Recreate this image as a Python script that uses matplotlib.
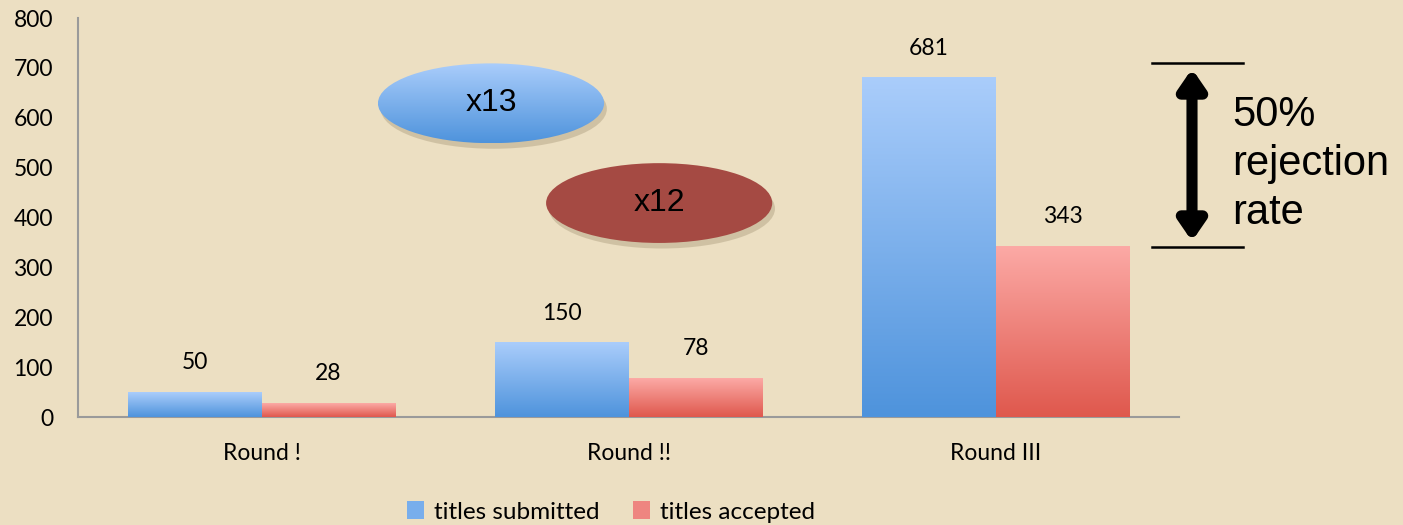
import numpy as np
import matplotlib.pyplot as plt
from matplotlib.patches import Ellipse, Patch, FancyArrowPatch
from matplotlib.lines import Line2D
from matplotlib.colors import LinearSegmentedColormap
import matplotlib.patheffects as pe

# data
rounds = ["Round !", "Round !!", "Round III"]
submitted = [50, 150, 681]
accepted = [28, 78, 343]
yticks = [0, 100, 200, 300, 400, 500, 600, 700, 800]

bg = "#ECDFC2"
blue_cmap = LinearSegmentedColormap.from_list("b", ["#4E93DC", "#AACDFB"])
red_cmap = LinearSegmentedColormap.from_list("r", ["#DF584D", "#FCAAA6"])
grad = np.linspace(0, 1, 256).reshape(-1, 1)

fig = plt.figure(figsize=(14.03, 5.25), dpi=100, facecolor=bg)
ax = fig.add_axes([0.0556, 0.2057, 0.785, 0.76])
ax.set_facecolor(bg)

x = np.arange(len(rounds))
w = 0.365

def gradient_bars(xpos, vals, cmap):
    bars = ax.bar(xpos, vals, w, facecolor="none", edgecolor="none", zorder=3)
    for b in bars:
        x0, y0 = b.get_x(), b.get_y()
        img = ax.imshow(grad, extent=[x0, x0 + b.get_width(), y0, y0 + b.get_height()],
                        origin="lower", aspect="auto", cmap=cmap, zorder=3)
        img.set_clip_path(b)
    return bars

gradient_bars(x - w / 2, submitted, blue_cmap)
gradient_bars(x + w / 2, accepted, red_cmap)

for xi, v in zip(x - w / 2, submitted):
    ax.annotate(str(v), (xi, v), xytext=(0, 21), textcoords="offset points",
                ha="center", va="center", fontsize=16.5, family="Lato")
for xi, v in zip(x + w / 2, accepted):
    ax.annotate(str(v), (xi, v), xytext=(0, 21), textcoords="offset points",
                ha="center", va="center", fontsize=16.5, family="Lato")

# ellipses
shadow = [pe.SimplePatchShadow(offset=(2, -4), shadow_rgbFace="#7a6a4a", alpha=0.25)]
shadow1 = Ellipse((0.625, 629), 0.616, 160, facecolor=bg, edgecolor="none", zorder=3.9,
                  path_effects=shadow)
ax.add_patch(shadow1)
e1 = Ellipse((0.625, 629), 0.616, 160, facecolor="none", edgecolor="none", zorder=4)
ax.add_patch(e1)
img = ax.imshow(grad, extent=[0.625 - 0.308, 0.625 + 0.308, 549, 709], origin="lower",
                aspect="auto", cmap=blue_cmap, zorder=4)
img.set_clip_path(e1)
ax.text(0.625, 629, "x13", ha="center", va="center", fontsize=23, family="Liberation Sans", zorder=5)

e2 = Ellipse((1.083, 429), 0.616, 160, facecolor="#A54A43", edgecolor="none", zorder=4,
             path_effects=shadow + [pe.Normal()])
ax.add_patch(e2)
ax.text(1.083, 429, "x12", ha="center", va="center", fontsize=23, family="Liberation Sans", zorder=5)

ax.set_xlim(-0.5, 2.5)
ax.set_ylim(0, 800)
ax.set_xticks(x)
ax.set_xticklabels(rounds, family="Lato", fontsize=16.5)
ax.set_yticks(yticks)
ax.set_yticklabels([str(t) for t in yticks], family="Lato", fontsize=16.5)
ax.tick_params(length=0)
ax.tick_params(axis="x", pad=19)
ax.tick_params(axis="y", pad=18)
for s in ["top", "right"]:
    ax.spines[s].set_visible(False)
for s in ["left", "bottom"]:
    ax.spines[s].set_color("#9a9a9a")
    ax.spines[s].set_linewidth(1.5)

# rejection annotation (figure pixels -> fraction)
W, H = 1403, 525
def fp(px, py):
    return (px / W, 1 - py / H)

for py in [63, 247]:
    fig.add_artist(Line2D([1152 / W, 1243 / W], [1 - py / H, 1 - py / H], color="black", lw=1.8))
arrow = FancyArrowPatch(fp(1192, 66), fp(1192, 244), transform=fig.transFigure,
                        arrowstyle="<|-|>,head_length=0.8,head_width=0.55", lw=8,
                        mutation_scale=14, color="black")
fig.add_artist(arrow)
fig.text(1232 / W, 1 - 164 / H, "50%\nrejection\nrate", ha="left", va="center",
         fontsize=30, family="Liberation Sans", linespacing=1.3)

handles = [Patch(facecolor="#78AEEC"), Patch(facecolor="#EE8580")]
fig.legend(handles, ["titles submitted", "titles accepted"], loc="center",
           bbox_to_anchor=(611 / W, 13 / H), ncol=2, frameon=False,
           prop={"family": "Lato", "size": 17.5}, handlelength=0.7, handleheight=0.7,
           handletextpad=0.4, columnspacing=1.4)

fig.savefig("out.png", dpi=100, facecolor=bg)
